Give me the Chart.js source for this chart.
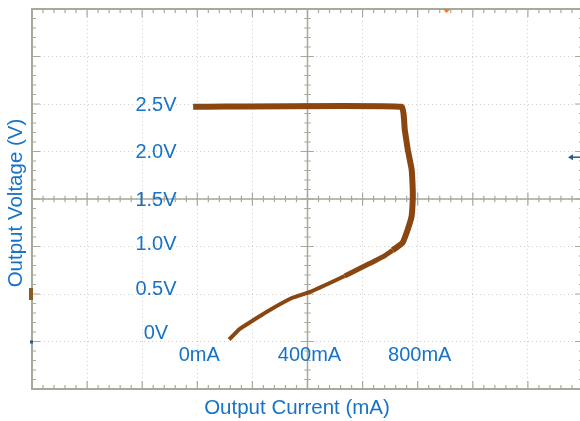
<!DOCTYPE html>
<html>
<head>
<meta charset="utf-8">
<script src="https://cdn.jsdelivr.net/npm/chart.js@4"></script>
<style>
    html, body { margin: 0; padding: 0; background: #fff; overflow: hidden; }
    #wrap { width: 584px; height: 421px; }
</style>
</head>
<body>
<div id="wrap"><canvas id="chart"></canvas></div>
<script>
// Scope trace (mA, V)
const currentMA = [-15, 742, 753, 764, 778, 782, 782, 778, 764, 745, 709, 673, 625, 535, 407, 345, 251, 153, 116];
const voltageV = [2.47, 2.47, 2.23, 2.02, 1.81, 1.60, 1.49, 1.32, 1.18, 1.04, 0.96, 0.89, 0.82, 0.69, 0.52, 0.46, 0.31, 0.13, 0.02];

// Labels printed on the screen
const voltTicks = [0, 0.5, 1.0, 1.5, 2.0, 2.5];
const voltLabels = ['0V', '0.5V', '1.0V', '1.5V', '2.0V', '2.5V'];
const currTicks = [0, 400, 800];
const currLabels = ['0mA', '400mA', '800mA'];

// Screen range: 10 x 8 divisions
const xMin = -600, xMax = 1400, xDiv = 200;
const yMin = -0.5, yMax = 3.5, yDiv = 0.5;

const blue = '#1673c6';
const frameColor = '#a8a89c';
const fontFamily = '"Liberation Sans", Arial, sans-serif';

// Frame, centre cross, tick marks, labels and markers of the scope screen
const graticule = {
    id: 'graticule',
    beforeDatasetsDraw(chart) {
        const { ctx, chartArea: a, scales: { x, y } } = chart;
        ctx.save();
        ctx.strokeStyle = frameColor;

        // Centre cross
        const cx = x.getPixelForValue(400);
        const cy = y.getPixelForValue(1.5);
        ctx.lineWidth = 1.5;
        ctx.beginPath();
        ctx.moveTo(a.left, cy); ctx.lineTo(a.right, cy);
        ctx.moveTo(cx, a.top); ctx.lineTo(cx, a.bottom);
        ctx.stroke();

        // Tick marks along the x direction
        ctx.lineWidth = 1.2;
        ctx.beginPath();
        for (let i = 0; i <= 50; i++) {
            const px = x.getPixelForValue(xMin + i * xDiv / 5);
            const len = i % 5 === 0 ? 8 : 4;
            ctx.moveTo(px, a.top); ctx.lineTo(px, a.top + len);
            ctx.moveTo(px, a.bottom); ctx.lineTo(px, a.bottom - len);
            ctx.moveTo(px, cy - len * 0.8); ctx.lineTo(px, cy + len * 0.8);
        }
        // Tick marks along the y direction
        for (let i = 0; i <= 40; i++) {
            const py = y.getPixelForValue(yMin + i * yDiv / 5);
            const len = i % 5 === 0 ? 8 : 4;
            ctx.moveTo(a.left, py); ctx.lineTo(a.left + len, py);
            ctx.moveTo(a.right, py); ctx.lineTo(a.right - len, py);
            ctx.moveTo(cx - len * 0.8, py); ctx.lineTo(cx + len * 0.8, py);
        }
        ctx.stroke();

        // Outer frame
        ctx.lineWidth = 2;
        ctx.strokeRect(a.left, a.top, a.right - a.left, a.bottom - a.top);
        ctx.restore();
    },
    afterDatasetsDraw(chart) {
        const { ctx, chartArea: a, scales: { x, y } } = chart;
        ctx.save();
        ctx.fillStyle = blue;
        ctx.textAlign = 'center';
        ctx.textBaseline = 'middle';

        // Voltage labels inside the screen (lower ones sit a bit above their line)
        ctx.font = '20px ' + fontFamily;
        const labelX = x.getPixelForValue(-150);
        voltTicks.forEach((v, i) => {
            const shift = v >= 1.5 ? 1 : 1 - (1.5 - v) * 6;
            ctx.fillText(voltLabels[i], labelX, y.getPixelForValue(v) + shift);
        });

        // Current labels under the 0V line
        const labelY = y.getPixelForValue(0) + 14;
        currTicks.forEach((v, i) => {
            ctx.fillText(currLabels[i], x.getPixelForValue(v) + 2, labelY);
        });

        // Axis titles
        ctx.font = '20.5px ' + fontFamily;
        ctx.fillText('Output Current (mA)', a.left + 265, a.bottom + 19);
        ctx.save();
        ctx.translate(a.left - 16, (a.top + a.bottom) / 2 + 4);
        ctx.rotate(-Math.PI / 2);
        ctx.fillText('Output Voltage (V)', 0, 0);
        ctx.restore();

        // Scope markers: trigger, channel and level arrows
        ctx.fillStyle = '#f07a3a';
        const tx = x.getPixelForValue(905);
        ctx.beginPath();
        ctx.moveTo(tx - 4, a.top); ctx.lineTo(tx + 4, a.top); ctx.lineTo(tx, a.top + 4);
        ctx.fill();

        ctx.fillStyle = '#8b5a22';
        ctx.fillRect(a.left - 3, y.getPixelForValue(0.5) - 6, 4, 12);

        ctx.fillStyle = '#2a5a8a';
        ctx.fillRect(a.left - 2, y.getPixelForValue(0) - 1, 3, 3);

        const ay = y.getPixelForValue(1.94);
        ctx.beginPath();
        ctx.moveTo(568, ay); ctx.lineTo(573, ay - 3); ctx.lineTo(573, ay + 3);
        ctx.fill();
        ctx.strokeStyle = '#2a5a8a';
        ctx.lineWidth = 1.5;
        ctx.beginPath();
        ctx.moveTo(572, ay); ctx.lineTo(580, ay);
        ctx.stroke();
        ctx.restore();
    }
};

const points = currentMA.map((c, i) => ({ x: c, y: voltageV[i] }));

// Trace gets thinner on the lower, faster part of the sweep
function traceWidth(ctx) {
    const v = ctx.p0.parsed.y;
    if (v > 1.0) return 6;
    if (v > 0.8) return 5;
    return 4;
}

new Chart(document.getElementById('chart'), {
    type: 'scatter',
    data: {
        datasets: [{
            data: points,
            showLine: true,
            borderColor: '#8a4610',
            backgroundColor: '#8a4610',
            borderWidth: 6,
            borderJoinStyle: 'round',
            pointRadius: 0,
            tension: 0.1,
            segment: { borderWidth: traceWidth }
        }]
    },
    options: {
        responsive: true,
        maintainAspectRatio: false,
        animation: false,
        layout: { padding: { top: 9, right: 1, left: 32, bottom: 32 } },
        scales: {
            x: {
                type: 'linear',
                min: xMin,
                max: xMax,
                ticks: { display: false, stepSize: xDiv },
                grid: { color: '#cfcfc6', lineWidth: 1, drawTicks: false },
                border: { display: false, dash: [1, 3] }
            },
            y: {
                type: 'linear',
                min: yMin,
                max: yMax,
                ticks: { display: false, stepSize: yDiv },
                grid: { color: '#cfcfc6', lineWidth: 1, drawTicks: false },
                border: { display: false, dash: [1, 3] }
            }
        },
        plugins: {
            legend: { display: false },
            tooltip: { enabled: false }
        }
    },
    plugins: [graticule]
});
</script>
</body>
</html>
